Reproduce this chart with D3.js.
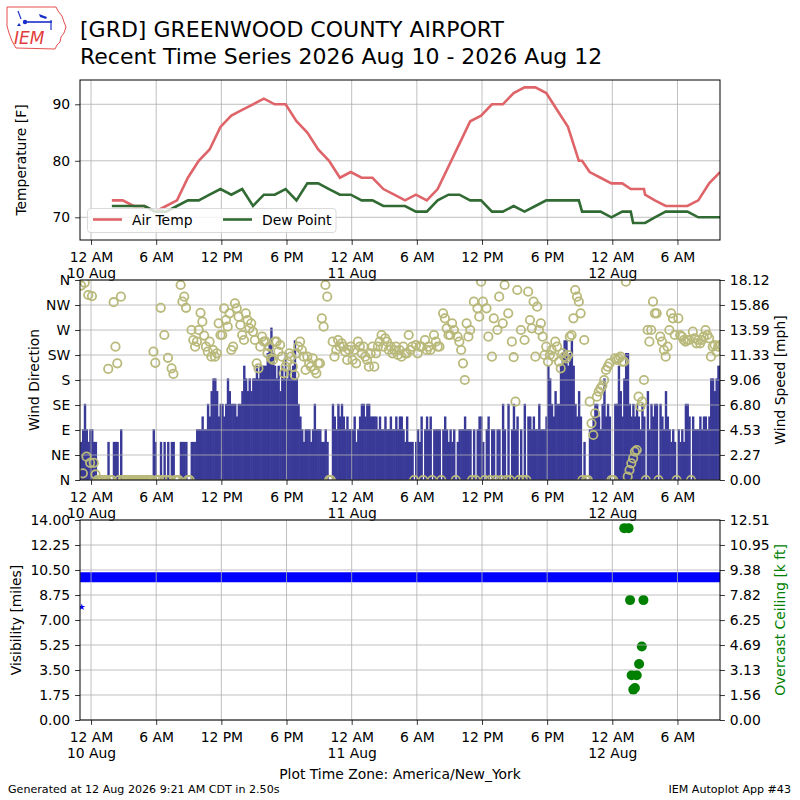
<!DOCTYPE html>
<html lang="en">
<head>
<meta charset="UTF-8">
<title>GRD Recent Time Series</title>
<script src="https://d3js.org/d3.v7.min.js"></script>
<style>
  body { margin: 0; background: #fff; }
  svg text { font-family: "DejaVu Sans", sans-serif; }
</style>
</head>
<body>
<svg id="chart" width="800" height="800"></svg>
<script>
const parseTime = d3.utcParse("%Y-%m-%d %H:%M");

// routine + special observations (local time, America/New_York)
const obsTimes = [
  "2026-08-10 01:55","2026-08-10 02:55","2026-08-10 03:55","2026-08-10 04:55","2026-08-10 05:55",
  "2026-08-10 06:55","2026-08-10 07:55","2026-08-10 08:55","2026-08-10 09:55","2026-08-10 10:55",
  "2026-08-10 11:55","2026-08-10 12:55","2026-08-10 13:55","2026-08-10 14:55","2026-08-10 15:55",
  "2026-08-10 16:55","2026-08-10 17:55","2026-08-10 18:55","2026-08-10 19:55","2026-08-10 20:55",
  "2026-08-10 21:55","2026-08-10 22:55","2026-08-10 23:55",
  "2026-08-11 00:55","2026-08-11 01:55","2026-08-11 02:55","2026-08-11 03:55","2026-08-11 04:55",
  "2026-08-11 05:55","2026-08-11 06:55","2026-08-11 07:55","2026-08-11 08:55","2026-08-11 09:55",
  "2026-08-11 10:55","2026-08-11 11:55","2026-08-11 12:55","2026-08-11 13:55","2026-08-11 14:55",
  "2026-08-11 15:55","2026-08-11 16:55","2026-08-11 17:55","2026-08-11 18:55","2026-08-11 19:55",
  "2026-08-11 20:55","2026-08-11 21:13","2026-08-11 21:55","2026-08-11 22:55","2026-08-11 23:55",
  "2026-08-12 00:55","2026-08-12 01:42","2026-08-12 01:55","2026-08-12 02:55","2026-08-12 03:01",
  "2026-08-12 03:55","2026-08-12 04:55","2026-08-12 05:55","2026-08-12 06:55","2026-08-12 07:55",
  "2026-08-12 08:55","2026-08-12 09:55"
];
const airTemp = [
  73,73,72,72,71,72,73,77,80,82,86,88,89,90,91,90,90,87,85,82,80,77,78,
  77,77,75,74,73,74,73,75,79,83,87,88,90,90,92,93,93,92,89,86,80,80,78,77,76,
  76,75,75,75,74,73,72,72,72,73,76,78
];
const dewPoint = [
  72,72,72,72,71,71,72,73,73,74,75,74,75,72,74,74,75,73,76,76,75,74,74,
  73,73,72,72,72,71,71,73,74,74,73,73,71,71,72,71,72,73,73,73,73,71,71,71,70,
  71,71,69,69,69,70,71,71,71,70,70,70
];

// wind, 10 minute samples from windStart (speed in knots, direction in degrees)
const windStart = "2026-08-09 23:00";
const windSpeedKt = [
  3,4,6,4,3,4,  4,3,3,0,0,0,  0,0,0,3,0,0,  3,3,3,0,4,0,  0,0,0,0,0,0,  0,0,0,0,0,0,
  0,0,0,0,4,3,  0,0,3,0,3,0,  3,0,3,3,0,0,  0,3,3,3,3,0,  0,3,3,3,4,4,  4,5,4,4,6,5,
  7,8,8,7,5,6,  6,5,6,8,7,6,  6,6,5,6,6,7,  9,8,7,8,7,8,  8,9,8,9,9,9,  9,10,11,12,10,9,
  8,9,7,9,8,10, 8,9,8,9,11,8, 6,5,4,3,4,4,  4,3,4,6,4,4,  4,3,3,4,3,0,  0,6,5,4,6,5,
  6,5,4,5,4,4,  4,5,3,4,5,6,  6,5,6,6,5,5,  5,5,4,5,4,4,  5,4,4,5,4,4,  5,4,5,5,4,3,
  5,3,3,3,0,3,  4,3,5,0,4,5,  4,5,0,4,4,4,  4,0,4,5,4,3,  4,3,4,0,3,4,  4,4,5,4,4,4,
  0,4,0,4,5,5,  3,0,4,5,0,4,  4,0,4,4,0,6,  4,0,6,0,4,6,  4,5,0,4,0,6,  0,5,5,4,5,4,
  4,6,4,4,4,5,  9,8,6,5,7,6,  6,9,10,11,11,9, 10,11,9,6,5,7, 5,0,3,0,0,4,  4,5,6,6,5,4,
  6,8,5,6,5,0,  0,6,6,9,7,5,  8,10,10,6,5,6, 5,6,5,4,6,5,  0,7,4,6,5,6,  6,0,6,5,4,7,
  5,4,3,4,3,0,  4,3,4,3,6,6,  5,0,5,4,4,4,  5,4,5,5,4,5,  8,8,7,8,9,9
];
const windDir = [
  350,12,355,42,333,31,  331,31,10,0,0,0,  0,0,0,200,0,0,  320,240,210,0,330,0,  0,0,0,0,0,0,  0,0,0,0,0,0,
  0,0,0,0,231,211,  0,0,310,0,261,0,  220,0,201,191,0,0,  0,351,321,330,310,0,  0,270,252,240,249,270,  301,285,260,240,231,249,
  222,234,222,228,282,261,  261,309,288,276,300,234,  240,318,309,294,279,261,  252,300,288,273,282,267,  252,210,201,240,258,249,  249,228,240,219,216,249,
  249,231,243,222,192,204,  213,228,222,204,189,228,  240,249,234,222,198,222,  210,204,219,198,192,210,  210,291,276,351,330,0,  0,249,222,234,252,240,
  246,240,231,216,234,240,  216,234,210,249,240,228,  240,222,216,204,228,240,  204,228,240,249,261,240,  255,249,234,240,228,234,  240,225,234,222,240,228,
  228,261,234,240,0,243,  228,240,240,0,252,234,  240,234,0,261,249,240,  240,0,300,291,273,261,  261,282,270,0,258,249,  234,210,180,282,258,270,
  0,321,0,309,294,357,  321,0,309,258,0,222,  291,0,270,330,0,282,  351,0,300,0,249,221,  141,342,0,270,0,252,  0,339,288,273,321,222,
  312,270,282,258,225,240,  213,225,234,222,249,240,  213,201,228,222,219,225,  258,261,291,342,330,321,  300,0,252,0,0,141,  102,81,120,150,159,165,
  170,180,198,204,210,0,  0,219,216,219,222,213,  213,357,6,18,30,39,  51,54,150,132,141,180,  0,270,249,270,321,300,  300,0,258,249,234,222,
  240,270,300,291,261,0,  291,261,258,252,249,252,  252,0,267,255,246,252,  246,252,258,270,261,255,  222,240,243,231,240,243
];

// visibility, hourly from visStart (miles)
const visStart = "2026-08-09 23:00";
const visibility = [
  10,10,10,10,10,10,10,10,10,10,10,10,10,10,10,10,10,10,10,10,
  10,10,10,10,10,10,10,10,10,10,10,10,10,10,10,10,10,10,10,10,
  10,10,10,10,10,10,10,10,10,10,10,10,10,10,10,10,10,10,10,10
];
const visLowTime = "2026-08-09 23:09";
const visLowValue = 7.9;

// overcast ceiling (k ft)
const ceilingTimes = [
  "2026-08-12 01:06","2026-08-12 01:30","2026-08-12 01:38","2026-08-12 01:47","2026-08-12 01:56",
  "2026-08-12 02:05","2026-08-12 02:15","2026-08-12 02:28","2026-08-12 02:43","2026-08-12 02:52"
];
const ceilingKft = [12.0, 12.0, 7.5, 2.8, 1.9, 2.0, 2.8, 3.5, 4.6, 7.5];

// tick labels
const tempTicks = [70, 80, 90];
const dirLabels = ["N", "NE", "E", "SE", "S", "SW", "W", "NW", "N"];
const speedTickLabels = ["0.00","2.27","4.53","6.80","9.06","11.33","13.59","15.86","18.12"];
const visTickLabels = ["0.00","1.75","3.50","5.25","7.00","8.75","10.50","12.25","14.00"];
const ceilTickLabels = ["0.00","1.56","3.13","4.69","6.25","7.82","9.38","10.95","12.51"];

const KT2MPH = 1.15078;
const FS = 13.9;
const svg = d3.select("#chart");
const X0 = 80, X1 = 720;

const x = d3.scaleUtc()
  .domain([parseTime("2026-08-09 22:59"), parseTime("2026-08-12 09:55")])
  .range([X0, X1]);
const xTicks = d3.utcHour.every(6).range(parseTime("2026-08-10 00:00"), parseTime("2026-08-12 10:00"));

function clip(id, top, bottom) {
  svg.append("clipPath").attr("id", id)
    .append("rect").attr("x", X0).attr("y", top).attr("width", X1 - X0).attr("height", bottom - top);
  return svg.append("g").attr("clip-path", `url(#${id})`);
}

function grid(top, bottom, y, yVals) {
  const g = svg.append("g").attr("stroke", "#b0b0b0").attr("stroke-width", 0.8);
  g.selectAll(".gx").data(xTicks).join("line")
    .attr("x1", d => x(d)).attr("x2", d => x(d)).attr("y1", top).attr("y2", bottom);
  g.selectAll(".gy").data(yVals).join("line")
    .attr("x1", X0).attr("x2", X1).attr("y1", d => y(d)).attr("y2", d => y(d));
}

function frame(top, bottom) {
  svg.append("rect").attr("x", X0).attr("y", top).attr("width", X1 - X0).attr("height", bottom - top)
    .attr("fill", "none").attr("stroke", "#000").attr("stroke-width", 1);
}

function styleAxis(ax) {
  ax.select(".domain").remove();
  ax.attr("font-size", FS).attr("font-family", "DejaVu Sans");
  ax.selectAll(".tick line").attr("stroke", "#000").attr("stroke-width", 0.8);
  ax.selectAll(".tick text").attr("fill", "#000");
}

function xAxis(bottom) {
  const ax = svg.append("g").attr("transform", `translate(0,${bottom})`)
    .call(d3.axisBottom(x).tickValues(xTicks).tickSize(4.9).tickFormat(d3.utcFormat("%-I %p")));
  styleAxis(ax);
  ax.selectAll(".tick text").attr("y", 22).attr("dy", null);
  ax.selectAll(".tick").filter(d => d.getUTCHours() === 0).select("text")
    .append("tspan").attr("x", 0).attr("dy", 16).text(d => d3.utcFormat("%-d %b")(d));
}

function yLabel(text, xPos, yMid, color) {
  svg.append("text").attr("transform", `translate(${xPos},${yMid}) rotate(-90)`)
    .attr("text-anchor", "middle").attr("font-size", FS).attr("fill", color || "#000").text(text);
}

// ---------- header ----------
const logo = svg.append("g");
logo.append("path")
  .attr("d", "M7,7 L56,7 L58,11 L62,16 L64,22 L66,27 L64,33 L61,37 L60,42 L57,45 L55,49 L16,48 L12,41 L9,33 L7,26 Z")
  .attr("fill", "none").attr("stroke", "#e23b3b").attr("stroke-width", 0.9);
logo.append("line").attr("x1", 23).attr("x2", 52).attr("y1", 22).attr("y2", 22).attr("stroke", "#1a2fc8").attr("stroke-width", 1.6);
logo.append("circle").attr("cx", 25).attr("cy", 22).attr("r", 2.2).attr("fill", "#1a2fc8");
logo.append("line").attr("x1", 18).attr("x2", 21).attr("y1", 11).attr("y2", 19).attr("stroke", "#1a2fc8").attr("stroke-width", 1.2);
logo.append("path").attr("d", "M39,14 L47,17 L46,19 L40,17 Z").attr("fill", "#1a2fc8");
logo.append("line").attr("x1", 51).attr("x2", 51).attr("y1", 20).attr("y2", 30).attr("stroke", "#1a2fc8").attr("stroke-width", 1.2);
logo.append("path").attr("d", "M19,23 L21,26 L17,26 Z").attr("fill", "#1a2fc8");
logo.append("text").attr("x", 14).attr("y", 44).attr("font-family", "Liberation Serif").attr("font-style", "italic")
  .attr("font-size", 17).attr("fill", "#e23b3b").text("IEM");

svg.append("text").attr("x", 80).attr("y", 37).attr("font-size", 22).attr("fill", "#000")
  .text("[GRD] GREENWOOD COUNTY AIRPORT");
svg.append("text").attr("x", 80).attr("y", 64).attr("font-size", 22).attr("fill", "#000")
  .text("Recent Time Series 2026 Aug 10 - 2026 Aug 12");

// ---------- panel 1: temperature ----------
const T0 = 80, T1 = 240;
const yTemp = d3.scaleLinear().domain([65.98, 94.3]).range([T1, T0]);
const obs = obsTimes.map((t, i) => ({ t: parseTime(t), air: airTemp[i], dew: dewPoint[i] }));
grid(T0, T1, yTemp, tempTicks);
const p1 = clip("c1", T0, T1);
const lineAir = d3.line().x(d => x(d.t)).y(d => yTemp(d.air));
const lineDew = d3.line().x(d => x(d.t)).y(d => yTemp(d.dew));
p1.append("path").datum(obs).attr("d", lineAir).attr("fill", "none").attr("stroke", "#df6469").attr("stroke-width", 2.6);
p1.append("path").datum(obs).attr("d", lineDew).attr("fill", "none").attr("stroke", "#316b33").attr("stroke-width", 2.6);

const leg = svg.append("g");
leg.append("rect").attr("x", 87.5).attr("y", 208.5).attr("width", 248.5).attr("height", 24).attr("rx", 3)
  .attr("fill", "#fff").attr("fill-opacity", 0.8).attr("stroke", "#d0d0d0").attr("stroke-width", 0.8);
const legItems = [
  { label: "Air Temp", color: "#df6469", x0: 93 },
  { label: "Dew Point", color: "#316b33", x0: 223 }
];
legItems.forEach(it => {
  leg.append("line").attr("x1", it.x0).attr("x2", it.x0 + 29).attr("y1", 219.5).attr("y2", 219.5)
    .attr("stroke", it.color).attr("stroke-width", 2.6);
  leg.append("text").attr("x", it.x0 + 39).attr("y", 224.5).attr("font-size", FS).attr("fill", "#000").text(it.label);
});
frame(T0, T1);
xAxis(T1);
const ay1 = svg.append("g").attr("transform", `translate(${X0},0)`)
  .call(d3.axisLeft(yTemp).tickValues(tempTicks).tickSize(4.9).tickPadding(4.9));
styleAxis(ay1);
yLabel("Temperature [F]", 26, (T0 + T1) / 2);

// ---------- panel 2: wind ----------
const W0 = 280, W1 = 480;
const ySpeed = d3.scaleLinear().domain([0, +speedTickLabels[8]]).range([W1, W0]);
const yDir = d3.scaleLinear().domain([0, 360]).range([W1, W0]);
const step = 10 * 60 * 1000;
const t0 = parseTime(windStart).getTime();
const wind = windSpeedKt.map((k, i) => ({
  t: new Date(t0 + i * step), t2: new Date(t0 + (i + 1) * step), mid: new Date(t0 + (i + 0.5) * step),
  mph: k * KT2MPH, dir: windDir[i]
}));
const p2 = clip("c2", W0, W1);
p2.selectAll("rect.bar").data(wind).join("rect").attr("class", "bar")
  .attr("x", d => x(d.t)).attr("width", d => x(d.t2) - x(d.t) + 0.6)
  .attr("y", d => ySpeed(d.mph)).attr("height", d => W1 - ySpeed(d.mph))
  .attr("fill", "#393998");
grid(W0, W1, yDir, d3.range(0, 361, 45));
const p2b = clip("c2b", W0, W1);
p2b.selectAll("circle").data(wind).join("circle")
  .attr("cx", d => x(d.mid)).attr("cy", d => yDir(d.dir)).attr("r", 4.2)
  .attr("fill", "none").attr("stroke", "#b9b97b").attr("stroke-width", 1.8);
frame(W0, W1);
xAxis(W1);
const ay2 = svg.append("g").attr("transform", `translate(${X0},0)`)
  .call(d3.axisLeft(yDir).tickValues(d3.range(0, 361, 45)).tickSize(4.9).tickPadding(4.9)
    .tickFormat((d, i) => dirLabels[i]));
styleAxis(ay2);
const ay2r = svg.append("g").attr("transform", `translate(${X1},0)`)
  .call(d3.axisRight(ySpeed).tickValues(speedTickLabels.map(Number)).tickSize(4.9).tickPadding(4.9)
    .tickFormat((d, i) => speedTickLabels[i]));
styleAxis(ay2r);
yLabel("Wind Direction", 39, (W0 + W1) / 2);
yLabel("Wind Speed [mph]", 785, (W0 + W1) / 2);

// ---------- panel 3: visibility / ceiling ----------
const V0 = 520, V1 = 720;
const yVis = d3.scaleLinear().domain([0, +visTickLabels[8]]).range([V1, V0]);
const yCeil = d3.scaleLinear().domain([0, +ceilTickLabels[8]]).range([V1, V0]);
const v0 = parseTime(visStart).getTime();
const visData = visibility.map((v, i) => ({ t: new Date(v0 + i * 3600 * 1000), v }));
const p3 = clip("c3", V0, V1);
p3.append("path").datum(visData)
  .attr("d", d3.line().x(d => x(d.t)).y(d => yVis(d.v)))
  .attr("fill", "none").attr("stroke", "#0000ff").attr("stroke-width", 10);
p3.append("path")
  .attr("d", d3.symbol().type(d3.symbolStar).size(14)())
  .attr("transform", `translate(${x(parseTime(visLowTime))},${yVis(visLowValue)})`)
  .attr("fill", "#0000ff");
p3.selectAll("circle").data(ceilingKft).join("circle")
  .attr("cx", (d, i) => x(parseTime(ceilingTimes[i]))).attr("cy", d => yCeil(d)).attr("r", 5)
  .attr("fill", "#008000");
grid(V0, V1, yVis, visTickLabels.map(Number));
frame(V0, V1);
xAxis(V1);
const ay3 = svg.append("g").attr("transform", `translate(${X0},0)`)
  .call(d3.axisLeft(yVis).tickValues(visTickLabels.map(Number)).tickSize(4.9).tickPadding(4.9)
    .tickFormat((d, i) => visTickLabels[i]));
styleAxis(ay3);
const ay3r = svg.append("g").attr("transform", `translate(${X1},0)`)
  .call(d3.axisRight(yCeil).tickValues(ceilTickLabels.map(Number)).tickSize(4.9).tickPadding(4.9)
    .tickFormat((d, i) => ceilTickLabels[i]));
styleAxis(ay3r);
yLabel("Visibility [miles]", 21, (V0 + V1) / 2);
yLabel("Overcast Ceiling [k ft]", 785, (V0 + V1) / 2, "#008000");

// ---------- footer ----------
svg.append("text").attr("x", 400).attr("y", 779).attr("text-anchor", "middle").attr("font-size", FS)
  .attr("fill", "#000").text("Plot Time Zone: America/New_York");
svg.append("text").attr("x", 8).attr("y", 793).attr("font-size", 11.1).attr("fill", "#000")
  .text("Generated at 12 Aug 2026 9:21 AM CDT in 2.50s");
svg.append("text").attr("x", 791).attr("y", 793).attr("text-anchor", "end").attr("font-size", 11.1)
  .attr("fill", "#000").text("IEM Autoplot App #43");
</script>
</body>
</html>
